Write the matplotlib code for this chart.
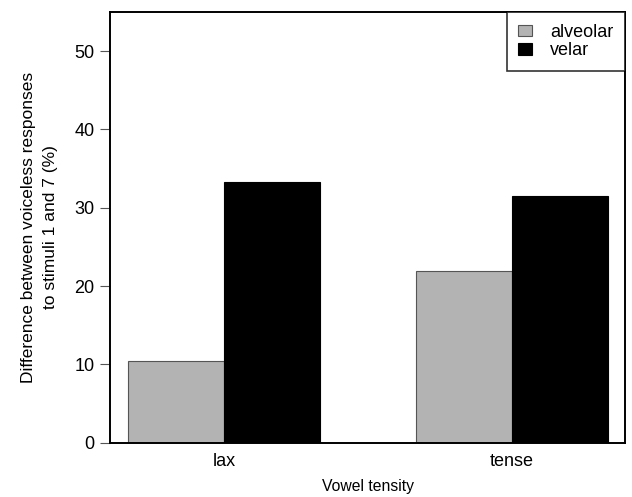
import numpy as np
import matplotlib
matplotlib.use("Agg")
import matplotlib.pyplot as plt

plt.rcParams['font.family'] = ['Liberation Sans', 'DejaVu Sans']

# data
groups = ['lax', 'tense']
alveolar = [10.5, 21.9]
velar = [33.3, 31.5]

fig = plt.figure(figsize=(6.32, 4.97), dpi=100)
ax = fig.add_axes([0.174, 0.109, 0.815, 0.867])

x = np.arange(len(groups))
w = 0.333
ax.bar(x - w / 2, alveolar, w, color='#b3b3b3', edgecolor='#555555', linewidth=0.8, label='alveolar')
ax.bar(x + w / 2, velar, w, color='black', edgecolor='black', linewidth=0.8, label='velar')

ax.set_xlim(-0.396, 1.392)
ax.set_ylim(0, 55)
ax.set_yticks([0, 10, 20, 30, 40, 50])
ax.set_xticks(x)
ax.set_xticklabels(groups)
ax.tick_params(axis='y', direction='out', length=7.5, width=0.8, color='#555555', labelsize=13, pad=3.5)
ax.tick_params(axis='x', length=0, labelsize=13, pad=7)
for s in ax.spines.values():
    s.set_linewidth(1.4)

ax.set_xlabel('Vowel tensity', fontsize=11.3, labelpad=7)
ax.set_ylabel('Difference between voiceless responses\nto stimuli 1 and 7 (%)', fontsize=12.5,
              labelpad=12, linespacing=1.6)

leg = ax.legend(loc='upper right', borderaxespad=0, fontsize=13, fancybox=False,
                edgecolor='black', handlelength=0.75, handleheight=0.6,
                handletextpad=1.0, labelspacing=0.1, borderpad=0.65)
leg.get_frame().set_linewidth(1.2)

fig.savefig('out.png', dpi=100)
